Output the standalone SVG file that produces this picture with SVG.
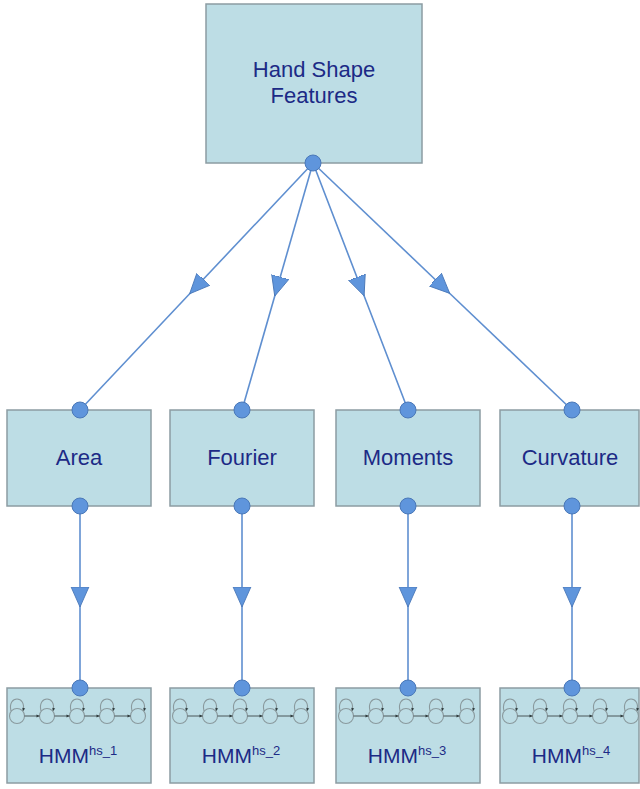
<svg xmlns="http://www.w3.org/2000/svg" width="640" height="789" viewBox="0 0 640 789">
<style>
.box{fill:#bddde5;stroke:#8c9ca2;stroke-width:1.5}
.lbl{font-family:"Liberation Sans",Arial,sans-serif;font-size:22px;fill:#1c2a86;text-anchor:middle}
.hmm{font-family:"Liberation Sans",Arial,sans-serif;font-size:21px;fill:#1c2a86;text-anchor:middle}
.conn{stroke:#5f8fd0;stroke-width:1.6;fill:none}
.dot{fill:#5f95dc;stroke:#4a78b8;stroke-width:1}
.st{fill:none;stroke:#8a9a9e;stroke-width:1.1}
.tr{stroke:#4a5658;stroke-width:1;fill:none}
</style>
<defs>
<marker id="arr" markerUnits="userSpaceOnUse" markerWidth="20" markerHeight="20" viewBox="0 -8 18 16" refX="9" refY="0" orient="auto">
<path d="M0,-8 L18,0 L0,8 Z" fill="#5f95dc" stroke="#4a78b8" stroke-width="0.8"/>
</marker>
<marker id="sm" markerUnits="userSpaceOnUse" markerWidth="4" markerHeight="4" viewBox="0 -2 3 4" refX="3" refY="0" orient="auto">
<path d="M0,-1.5 L3,0 L0,1.5 Z" fill="#2e3a3c"/>
</marker>
<g id="chain">
<circle class="st" cx="10" cy="0" r="7.5"/>
<circle class="st" cx="40" cy="0" r="7.5"/>
<circle class="st" cx="70" cy="0" r="7.5"/>
<circle class="st" cx="100" cy="0" r="7.5"/>
<circle class="st" cx="131" cy="0" r="7.5"/>
<path class="tr" d="M17.5,0 H32.5" marker-end="url(#sm)"/>
<path class="tr" d="M47.5,0 H62.5" marker-end="url(#sm)"/>
<path class="tr" d="M77.5,0 H92.5" marker-end="url(#sm)"/>
<path class="tr" d="M107.5,0 H123.5" marker-end="url(#sm)"/>
<path class="st" d="M4,-5 C0,-21 20,-21 16,-5" marker-end="url(#sm)"/>
<path class="st" d="M34,-5 C30,-21 50,-21 46,-5" marker-end="url(#sm)"/>
<path class="st" d="M64,-5 C60,-21 80,-21 76,-5" marker-end="url(#sm)"/>
<path class="st" d="M94,-5 C90,-21 110,-21 106,-5" marker-end="url(#sm)"/>
<path class="st" d="M125,-5 C121,-21 141,-21 137,-5" marker-end="url(#sm)"/>
</g>
</defs>
<rect width="640" height="789" fill="#ffffff"/>

<g id="hand-shape-features">
<rect class="box" x="206" y="4" width="216" height="159"/>
<text class="lbl" x="314" y="77">Hand Shape</text>
<text class="lbl" x="314" y="103">Features</text>
</g>

<g id="area">
<rect class="box" x="7" y="410" width="144" height="96"/>
<text class="lbl" x="79" y="465">Area</text>
</g>
<g id="fourier">
<rect class="box" x="170" y="410" width="144" height="96"/>
<text class="lbl" x="242" y="465">Fourier</text>
</g>
<g id="moments">
<rect class="box" x="336" y="410" width="144" height="96"/>
<text class="lbl" x="408" y="465">Moments</text>
</g>
<g id="curvature">
<rect class="box" x="500" y="410" width="139" height="96"/>
<text class="lbl" x="570" y="465">Curvature</text>
</g>

<g id="hmm1">
<rect class="box" x="7" y="688" width="144" height="95"/>
<use href="#chain" x="7" y="716"/>
<text class="hmm" x="78" y="763">HMM<tspan dy="-8" font-size="13">hs_1</tspan></text>
</g>
<g id="hmm2">
<rect class="box" x="170" y="688" width="144" height="95"/>
<use href="#chain" x="170" y="716"/>
<text class="hmm" x="241" y="763">HMM<tspan dy="-8" font-size="13">hs_2</tspan></text>
</g>
<g id="hmm3">
<rect class="box" x="336" y="688" width="144" height="95"/>
<use href="#chain" x="336" y="716"/>
<text class="hmm" x="407" y="763">HMM<tspan dy="-8" font-size="13">hs_3</tspan></text>
</g>
<g id="hmm4">
<rect class="box" x="500" y="688" width="139" height="95"/>
<use href="#chain" x="500" y="716"/>
<text class="hmm" x="571" y="763">HMM<tspan dy="-8" font-size="13">hs_4</tspan></text>
</g>

<g id="connectors">
<polyline class="conn" points="313,163 196.5,286.5 80,410" marker-mid="url(#arr)"/>
<polyline class="conn" points="313,163 277.5,286.5 242,410" marker-mid="url(#arr)"/>
<polyline class="conn" points="313,163 360.5,286.5 408,410" marker-mid="url(#arr)"/>
<polyline class="conn" points="313,163 442.5,286.5 572,410" marker-mid="url(#arr)"/>
<polyline class="conn" points="80,506 80,597 80,688" marker-mid="url(#arr)"/>
<polyline class="conn" points="242,506 242,597 242,688" marker-mid="url(#arr)"/>
<polyline class="conn" points="408,506 408,597 408,688" marker-mid="url(#arr)"/>
<polyline class="conn" points="572,506 572,597 572,688" marker-mid="url(#arr)"/>
<circle class="dot" cx="313" cy="163" r="8"/>
<circle class="dot" cx="80" cy="410" r="8"/>
<circle class="dot" cx="242" cy="410" r="8"/>
<circle class="dot" cx="408" cy="410" r="8"/>
<circle class="dot" cx="572" cy="410" r="8"/>
<circle class="dot" cx="80" cy="506" r="8"/>
<circle class="dot" cx="242" cy="506" r="8"/>
<circle class="dot" cx="408" cy="506" r="8"/>
<circle class="dot" cx="572" cy="506" r="8"/>
<circle class="dot" cx="80" cy="688" r="8"/>
<circle class="dot" cx="242" cy="688" r="8"/>
<circle class="dot" cx="408" cy="688" r="8"/>
<circle class="dot" cx="572" cy="688" r="8"/>
</g>
</svg>
